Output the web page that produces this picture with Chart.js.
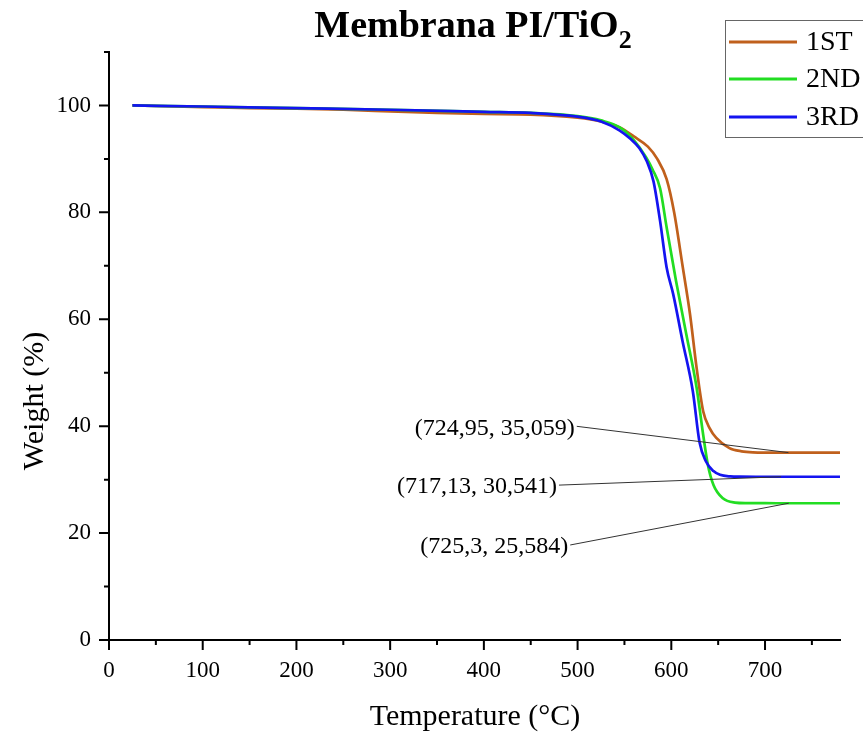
<!DOCTYPE html>
<html>
<head>
<meta charset="utf-8">
<script src="https://cdn.jsdelivr.net/npm/chart.js@4.4.0/dist/chart.umd.min.js"></script>
<style>
  html, body { margin: 0; padding: 0; background: #fff; }
  #wrap { width: 863px; height: 734px; }
</style>
</head>
<body>
<div id="wrap"><canvas id="c" width="863" height="734"></canvas></div>
<script>
// TGA curves (temperature in °C, weight in %)
const temp1   = [25, 50, 100, 150, 200, 250, 300, 350, 400, 450, 500, 525, 545, 560, 575, 585, 595, 603, 612, 620, 627, 634, 641, 648, 662, 675, 687, 700, 725, 780];
const weight1 = [100, 99.9, 99.7, 99.5, 99.4, 99.2, 98.9, 98.6, 98.4, 98.3, 97.7, 97.0, 95.9, 94.2, 92.3, 90.0, 86.2, 80.0, 70.0, 60.9, 50.9, 42.8, 39.6, 37.8, 35.9, 35.3, 35.1, 35.06, 35.059, 35.05];

const temp2   = [25, 100, 200, 300, 400, 450, 500, 525, 545, 560, 573, 580, 588, 595, 605, 616, 627, 634, 639, 645, 655, 668, 680, 700, 725, 780];
const weight2 = [100, 99.8, 99.5, 99.2, 98.8, 98.6, 98.0, 97.2, 95.9, 93.5, 90.3, 88.0, 84.5, 77.2, 67.2, 57.2, 47.2, 38.4, 32.8, 29.0, 26.5, 25.7, 25.6, 25.59, 25.584, 25.58];

const temp3   = [25, 100, 200, 300, 400, 450, 500, 525, 545, 556, 566, 574, 581, 588, 595, 602, 612, 623, 630, 637, 645, 652, 663, 673, 700, 717, 780];
const weight3 = [100, 99.8, 99.5, 99.2, 98.8, 98.6, 97.9, 97.0, 95.3, 93.8, 92.0, 89.5, 85.8, 78.4, 69.7, 64.7, 55.9, 46.5, 37.1, 33.4, 31.6, 30.9, 30.6, 30.55, 30.54, 30.541, 30.54];

const seriesLabels = ['1ST', '2ND', '3RD'];
const seriesColors = ['#C0601C', '#22DD22', '#1414F0'];

const xMajorTicks = [0, 100, 200, 300, 400, 500, 600, 700];
const xMinorTicks = [50, 150, 250, 350, 450, 550, 650, 750];
const yMajorTicks = [0, 20, 40, 60, 80, 100];
const yMinorTicks = [10, 30, 50, 70, 90, 110];

// marked end points
const annotX = [724.95, 717.13, 725.3];
const annotY = [35.059, 30.541, 25.584];
const annotText = ['(724,95, 35,059)', '(717,13, 30,541)', '(725,3, 25,584)'];

const SERIF = '"Liberation Serif", "Times New Roman", serif';

function pts(xs, ys) { return xs.map((x, i) => ({ x, y: ys[i] })); }

const datasets = [[temp1, weight1], [temp2, weight2], [temp3, weight3]].map((s, i) => ({
  label: seriesLabels[i],
  data: pts(s[0], s[1]),
  borderColor: seriesColors[i],
  borderWidth: 2.7,
  pointRadius: 0,
  fill: false,
  cubicInterpolationMode: 'monotone',
  order: 2 - i,
}));

// label anchors for the annotations (data units)
const labelAnchorX = [497, 478, 490];
const labelAnchorY = [39.6, 28.6, 17.4];

const decor = {
  id: 'decor',
  afterDatasetsDraw(chart) {
    const { ctx } = chart;
    const x = chart.scales.x, y = chart.scales.y;
    ctx.save();
    ctx.font = '24px ' + SERIF;
    ctx.fillStyle = '#000';
    ctx.textAlign = 'right';
    ctx.textBaseline = 'middle';
    ctx.strokeStyle = '#333';
    ctx.lineWidth = 1;
    annotText.forEach((t, i) => {
      const tx = x.getPixelForValue(labelAnchorX[i]);
      const ty = y.getPixelForValue(labelAnchorY[i]);
      ctx.fillText(t, tx, ty);
      ctx.beginPath();
      ctx.moveTo(tx + 2, ty - 2);
      ctx.lineTo(x.getPixelForValue(annotX[i]), y.getPixelForValue(annotY[i]));
      ctx.stroke();
    });
    ctx.restore();
  },
  afterDraw(chart) {
    const { ctx, chartArea: a } = chart;
    const x = chart.scales.x, y = chart.scales.y;
    ctx.save();
    // tick marks
    ctx.strokeStyle = '#000';
    ctx.lineWidth = 2;
    ctx.beginPath();
    yMajorTicks.forEach(v => { const p = y.getPixelForValue(v); ctx.moveTo(a.left - 10, p); ctx.lineTo(a.left, p); });
    yMinorTicks.forEach(v => { const p = y.getPixelForValue(v); ctx.moveTo(a.left - 5, p); ctx.lineTo(a.left, p); });
    xMajorTicks.forEach(v => { const p = x.getPixelForValue(v); ctx.moveTo(p, a.bottom); ctx.lineTo(p, a.bottom + 10); });
    xMinorTicks.forEach(v => { const p = x.getPixelForValue(v); ctx.moveTo(p, a.bottom); ctx.lineTo(p, a.bottom + 5); });
    ctx.stroke();

    // title with subscript
    ctx.fillStyle = '#000';
    ctx.textBaseline = 'alphabetic';
    ctx.textAlign = 'left';
    const main = 'Membrana PI/TiO';
    ctx.font = 'bold 38px ' + SERIF;
    const w1 = ctx.measureText(main).width;
    ctx.font = 'bold 26px ' + SERIF;
    const w2 = ctx.measureText('2').width;
    const tx = 473 - (w1 + w2) / 2;
    ctx.font = 'bold 38px ' + SERIF;
    ctx.fillText(main, tx, 37);
    ctx.font = 'bold 26px ' + SERIF;
    ctx.fillText('2', tx + w1, 48);

    // axis titles
    ctx.font = '30px ' + SERIF;
    ctx.textAlign = 'center';
    ctx.textBaseline = 'middle';
    ctx.fillText('Temperature (°C)', 475, 717);
    ctx.save();
    ctx.translate(35, 401);
    ctx.rotate(-Math.PI / 2);
    ctx.fillText('Weight (%)', 0, 0);
    ctx.restore();

    // legend box
    ctx.strokeStyle = '#666';
    ctx.lineWidth = 1;
    ctx.strokeRect(725.5, 20.5, 200, 117);
    const rows = [42, 79, 117];
    ctx.font = '28px ' + SERIF;
    ctx.textAlign = 'left';
    seriesLabels.forEach((lab, i) => {
      ctx.strokeStyle = seriesColors[i];
      ctx.lineWidth = 3;
      ctx.beginPath();
      ctx.moveTo(729, rows[i]);
      ctx.lineTo(797, rows[i]);
      ctx.stroke();
      ctx.fillStyle = '#000';
      ctx.fillText(lab, 806, rows[i] + 1);
    });
    ctx.restore();
  }
};

new Chart(document.getElementById('c'), {
  type: 'line',
  data: { datasets },
  options: {
    responsive: false,
    animation: false,
    events: [],
    layout: { padding: { top: 52, right: 23, left: 0, bottom: 0 } },
    plugins: { legend: { display: false }, tooltip: { enabled: false }, title: { display: false } },
    scales: {
      x: {
        type: 'linear',
        min: 0,
        max: 780,
        grid: { display: false, drawTicks: false },
        border: { display: true, color: '#000', width: 2 },
        afterBuildTicks: s => { s.ticks = xMajorTicks.map(v => ({ value: v })); },
        afterFit: s => { s.height = 94; },
        ticks: { color: '#000', font: { family: SERIF, size: 23 }, padding: 17, maxRotation: 0, autoSkip: false },
      },
      y: {
        type: 'linear',
        min: 0,
        max: 110,
        grid: { display: false, drawTicks: false },
        border: { display: true, color: '#000', width: 2 },
        afterBuildTicks: s => { s.ticks = yMajorTicks.map(v => ({ value: v })); },
        afterFit: s => { s.width = 109; },
        ticks: { color: '#000', font: { family: SERIF, size: 23 }, padding: 18, autoSkip: false },
      },
    },
  },
  plugins: [decor],
});
</script>
</body>
</html>
